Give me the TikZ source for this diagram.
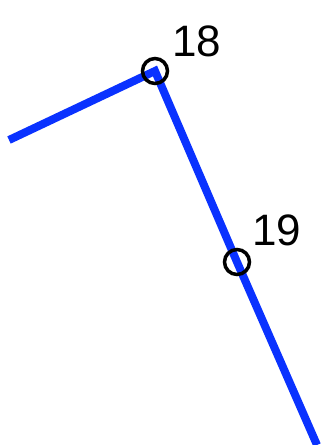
\documentclass[tikz,border=0pt]{standalone}
\usepackage{fontspec}
\setmainfont{Liberation Sans}
\begin{document}
\begin{tikzpicture}[x=1pt,y=-1pt,
  pathline/.style={draw={rgb,255:red,10;green,50;blue,255},line width=8pt},
  vertex/.style={circle,draw=black,line width=3.5pt,minimum size=25pt,inner sep=0pt},
  lbl/.style={font=\fontsize{44}{46}\selectfont,inner sep=0pt,text=black}]
\useasboundingbox (0,0) rectangle (326,445);
\fill[white] (0,0) rectangle (326,445);
\coordinate (start) at (9,140);
\coordinate (finish) at (317,445);
\coordinate (p18) at (155,71);
\coordinate (p19) at (237,262);
\draw[pathline] (start) -- (p18) -- (p19) -- (finish);
\node[vertex] (n18) at (p18) {};
\node[vertex] (n19) at (p19) {};
\node[lbl] (t18) at (197,41) {18};
\node[lbl] (t19) at (277,230) {19};
\end{tikzpicture}
\end{document}
